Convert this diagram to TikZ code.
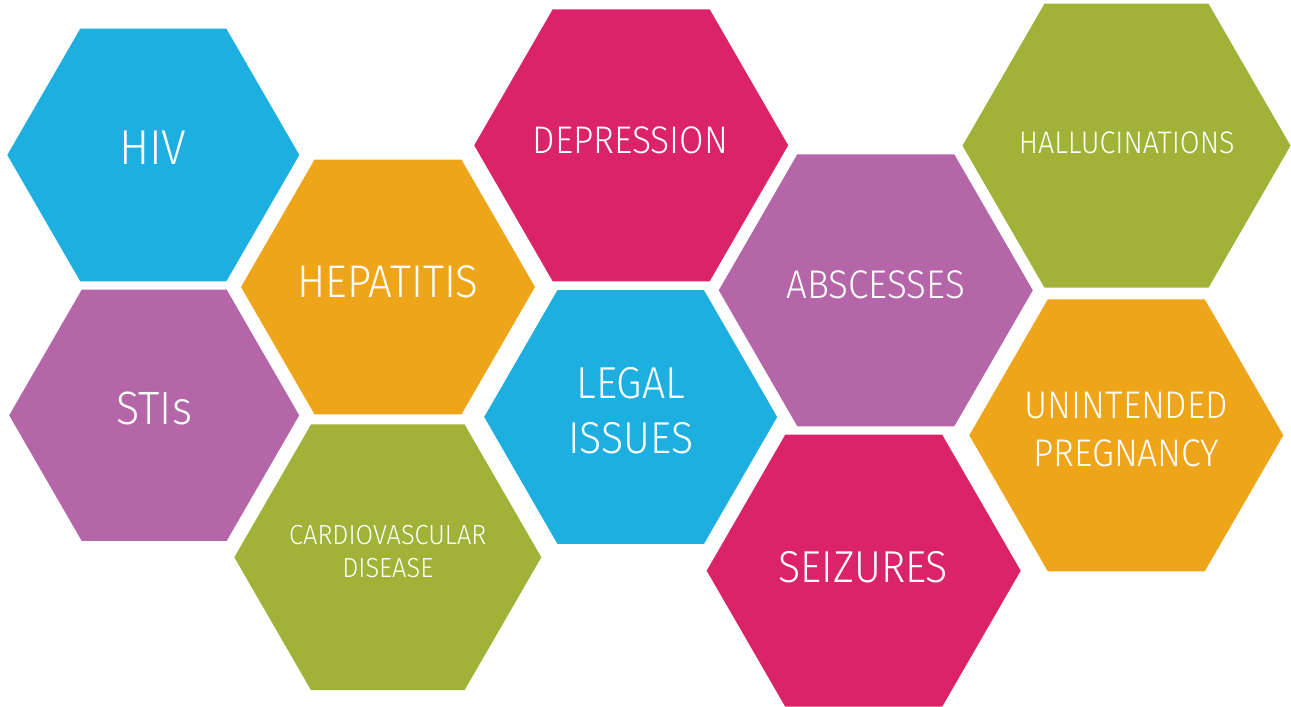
\documentclass[tikz,border=0pt]{standalone}
\usepackage{fontspec}
\setmainfont{Fira Sans}[UprightFont=* Light, FakeStretch=0.92]
\usetikzlibrary{shapes.geometric}
\definecolor{cblue}{HTML}{1EAFE1}
\definecolor{corange}{HTML}{EFA51A}
\definecolor{cpurple}{HTML}{B466A8}
\definecolor{cgreen}{HTML}{A0B237}
\definecolor{cmagenta}{HTML}{DA2368}
\tikzset{
  hexa/.style={regular polygon, regular polygon sides=6, draw=none, inner sep=0pt, outer sep=0pt},
  lbl/.style={text=white, anchor=base, inner sep=0pt, align=center}
}
\begin{document}
\begin{tikzpicture}[x=1pt,y=-1pt]
\useasboundingbox (0,0) rectangle (1291,707);
% hexagons
\node[hexa, fill=cblue,    minimum size=292pt] (hiv)  at (153.3,155.0) {};
\node[hexa, fill=corange,  minimum size=294pt] (hep)  at (388.0,287.0) {};
\node[hexa, fill=cpurple,  minimum size=290pt] (sti)  at (154.2,415.3) {};
\node[hexa, fill=cgreen,   minimum size=307pt] (card) at (387.8,557.3) {};
\node[hexa, fill=cmagenta, minimum size=314pt] (dep)  at (631.2,145.3) {};
\node[hexa, fill=cblue,    minimum size=293pt] (leg)  at (630.7,417.0) {};
\node[hexa, fill=cpurple,  minimum size=314pt] (abs)  at (875.8,290.3) {};
\node[hexa, fill=cmagenta, minimum size=314pt] (seiz) at (863.7,570.7) {};
\node[hexa, fill=cgreen,   minimum size=328pt] (hal)  at (1126.5,145.7) {};
\node[hexa, fill=corange,  minimum size=314pt] (unin) at (1126.3,435.3) {};
% labels
\node[lbl, font=\fontsize{49}{49}\selectfont] (hivt) at (152.8,164.0) {HIV};
\node[lbl, font=\fontsize{45.8}{45.8}\selectfont] (hept) at (388.0,297.3) {HEPATITIS};
\node[lbl, font=\fontsize{46.8}{46.8}\selectfont] (stit) at (154.2,424.0) {STIs};
\node[lbl, font=\fontsize{27.6}{27.6}\selectfont] (cardt1) at (387.8,544.0) {CARDIOVASCULAR};
\node[lbl, font=\fontsize{27.6}{27.6}\selectfont] (cardt2) at (387.8,577.7) {DISEASE};
\node[lbl, font=\fontsize{38.5}{38.5}\selectfont] (dept) at (630.3,153.3) {DEPRESSION};
\node[lbl, font=\fontsize{44.7}{44.7}\selectfont] (legt1) at (630.7,398.3) {LEGAL};
\node[lbl, font=\fontsize{44.7}{44.7}\selectfont] (legt2) at (630.7,453.3) {ISSUES};
\node[lbl, font=\fontsize{40}{40}\selectfont] (abst) at (875.8,298.3) {ABSCESSES};
\node[lbl, font=\fontsize{44.7}{44.7}\selectfont] (seizt) at (863.3,582.3) {SEIZURES};
\node[lbl, font=\fontsize{31.2}{31.2}\selectfont] (halt) at (1126.7,153.3) {HALLUCINATIONS};
\node[lbl, font=\fontsize{38.5}{38.5}\selectfont] (unint1) at (1126.3,418.3) {UNINTENDED};
\node[lbl, font=\fontsize{38.5}{38.5}\selectfont] (unint2) at (1126.3,466.0) {PREGNANCY};
\end{tikzpicture}
\end{document}
